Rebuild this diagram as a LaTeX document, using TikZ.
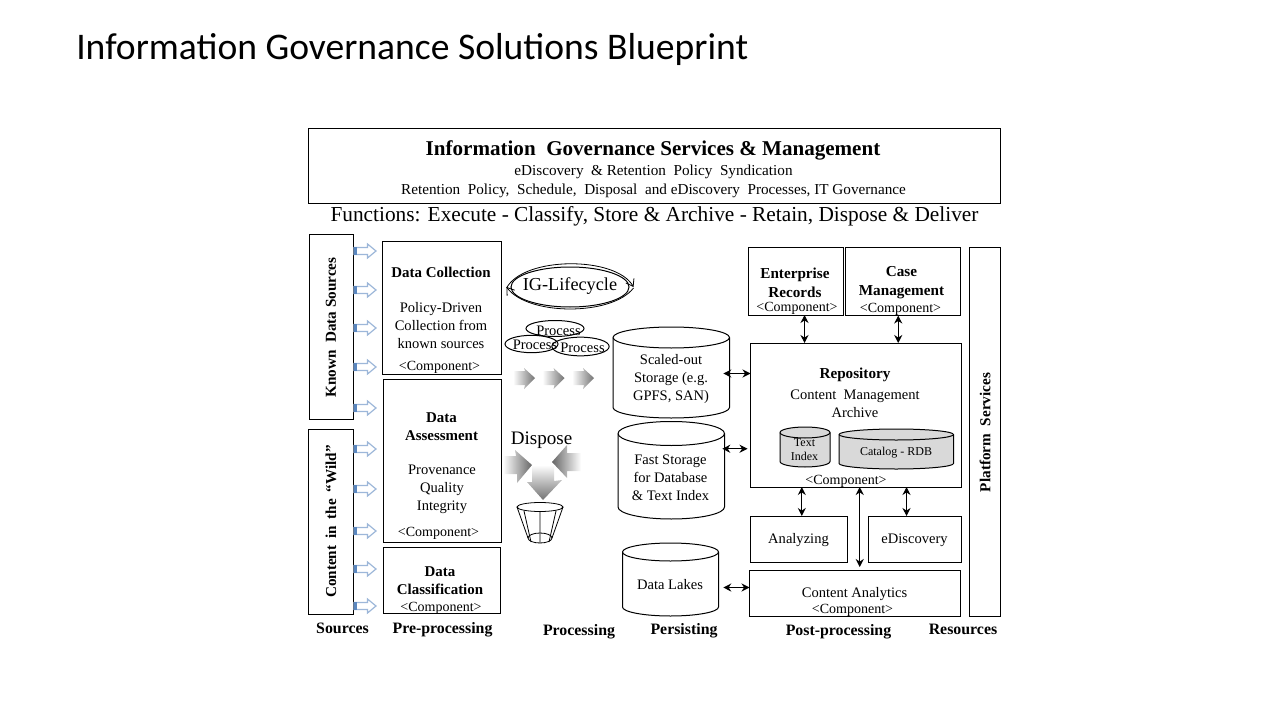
\documentclass[tikz,border=0pt]{standalone}
\usepackage{fontspec}
\setmainfont{Liberation Serif}
\newfontfamily\titlefont{Carlito}
\usetikzlibrary{arrows.meta,calc,shapes.geometric}
\definecolor{arrowblue}{HTML}{9DB7D9}
\definecolor{arrowdark}{HTML}{5B87BF}
\newcommand{\sizeA}{\fontsize{10.9}{13.5}\selectfont}
\newcommand{\sizeB}{\fontsize{11.4}{14}\selectfont\bfseries}
\newcommand{\cp}{\fontsize{10.5}{13}\selectfont <Component>}
% \cyl{name}{x1}{y1}{x2}{y2}{ry}{fill}
\newcommand{\cyl}[7]{%
  \path[fill=#7,draw=black,line width=0.75pt] (#2,#3+#6) arc[start angle=180,end angle=360,x radius={(#4-#2)/2},y radius=#6]
    -- (#4,#5-#6) arc[start angle=0,end angle=180,x radius={(#4-#2)/2},y radius=#6] -- cycle;
  \path[draw=black,line width=0.75pt] (#2,#3+#6) arc[start angle=180,end angle=0,x radius={(#4-#2)/2},y radius=#6];
  \node[minimum width={(#4-#2)*0.75pt},minimum height={(#5-#3)*0.75pt},inner sep=0pt] (#1) at ({(#2+#4)/2},{(#3+#5)/2}) {};
}
\tikzset{
  x=0.75pt,y=-0.75pt,
  box/.style={draw=black,line width=0.75pt,inner sep=0pt,outer sep=0pt,anchor=north west},
  lbl/.style={font=\sizeA,align=center,inner sep=0pt,yshift=-0.75pt},
  hd/.style={font=\sizeB,align=center,inner sep=0pt},
  foot/.style={font=\fontsize{11.9}{13}\selectfont\bfseries,inner sep=0pt,anchor=base},
  bi/.style={{Stealth[length=6pt,width=6pt]}-{Stealth[length=6pt,width=6pt]},line width=0.75pt},
  oval/.style={ellipse,draw=black,line width=0.75pt,inner sep=0pt},
}
\begin{document}
\begin{tikzpicture}
\useasboundingbox (0,0) rectangle (1280,720);
\node[font=\titlefont\fontsize{28.2}{32}\selectfont,anchor=west,inner sep=0pt] (title) at (76,49) {Information Governance Solutions Blueprint};

% top box
\node[box,minimum width=519pt,minimum height=56.25pt] (igs) at (308,128.5) {};
\node[font=\fontsize{15.8}{18}\selectfont\bfseries,inner sep=0pt] (igsh) at (653,150) {Information\ \ Governance Services \& Management};
\node[font=\fontsize{11.4}{13}\selectfont,inner sep=0pt] (igs1) at (653.5,171.5) {eDiscovery\ \ \& Retention\ \ Policy\ \ Syndication};
\node[font=\fontsize{11.4}{13}\selectfont,inner sep=0pt] (igs2) at (653.5,190.5) {Retention\ \ Policy,\ \ Schedule,\ \ Disposal\ \ and eDiscovery\ \ Processes, IT Governance};
\node[font=\fontsize{16}{18}\selectfont,inner sep=0pt] (fn) at (654.5,216.5) {Functions: Execute - Classify, Store \& Archive - Retain, Dispose \& Deliver};

% sources
\node[box,minimum width=33pt,minimum height=138.75pt] (known) at (309,234.5) {};
\node[hd,rotate=90] (knownt) at (331,327.5) {Known\ \ Data Sources};
\node[box,minimum width=34pt,minimum height=138.4pt] (wild) at (308,429.5) {};
\node[hd,rotate=90] (wildt) at (331,521.5) {Content\hspace{0.45em}in\hspace{0.45em}the\hspace{0.45em}``Wild''};

% pre-processing
\node[box,minimum width=89.6pt,minimum height=99.75pt] (dc) at (382,241.5) {};
\node[font=\fontsize{11.2}{13.5}\selectfont\bfseries,inner sep=0pt] (dch) at (441,272.5) {Data Collection};
\node[lbl] (dct) at (441,325) {Policy-Driven\\Collection from\\known sources};
\node[lbl] (dcc) at (439.5,366.5) {\cp};
\node[box,minimum width=88.5pt,minimum height=122.25pt] (da) at (383,379) {};
\node[font=\fontsize{11.2}{13.5}\selectfont\bfseries,align=center,inner sep=0pt] (dah) at (441.5,426.5) {Data\\Assessment};
\node[lbl] (dat) at (442,488) {Provenance\\Quality\\Integrity};
\node[lbl] (dac) at (438.5,532.5) {\cp};
\node[box,minimum width=87.75pt,minimum height=49.9pt] (dl) at (383,547) {};
\node[font=\fontsize{11.2}{13.5}\selectfont\bfseries,align=center,inner sep=0pt] (dlh) at (440,580.5) {Data\\Classification};
\node[lbl] (dlc) at (441,607.5) {\cp};

% hollow arrows
\foreach \yy in {251,290,328,367,408,449,489,531,569,606}{
  \draw[arrowblue,fill=white,line width=0.9pt,line join=miter]
    (354,\yy-3.5) -- (367.5,\yy-3.5) -- (367.5,\yy-7) -- (376,\yy) -- (367.5,\yy+7) -- (367.5,\yy+3.5) -- (354,\yy+3.5) -- cycle;
  \fill[arrowdark] (354,\yy-4) rectangle (356.5,\yy+4);
}

% lifecycle
\node[oval,minimum width=88.5pt,minimum height=30pt] (life) at (570,287) {};
\node[font=\fontsize{13.7}{16}\selectfont,inner sep=0pt] (lifet) at (570,286.5) {IG-Lifecycle};
\coordinate (lifeL) at ($(life.west)+(-4,0)$);
\coordinate (lifeR) at ($(life.east)+(4,0)$);
\draw[line width=0.6pt,-{Straight Barb[length=5pt,width=7pt]}] ($(lifeL)+(0,1)$) .. controls (524,256) and (616,256) .. (lifeR);
\draw[line width=0.6pt,-{Straight Barb[length=5pt,width=7pt]}] ($(lifeR)+(0,1)$) .. controls (612,316) and (528,316) .. (lifeL);

% process ellipses
\node[oval,minimum width=43.5pt,minimum height=12pt] (p1) at (555,328.5) {};
\node[oval,minimum width=39.75pt,minimum height=13pt] (p2) at (531.5,344) {};
\node[oval,minimum width=43pt,minimum height=14pt] (p3) at (580.5,346.5) {};
\node[lbl] at (558.5,329.5) {Process};
\node[lbl] at (535,344) {Process};
\node[lbl] at (582.5,346.5) {Process};

% grey arrows
\foreach \dx in {0,29.5,59}{
  \shade[left color=white,right color=black!55,xshift=\dx*0.75pt]
    (513,371) -- (525,371) -- (524,368) -- (535,378) -- (524,389) -- (525,385) -- (513,385) -- cycle;
}
\node[font=\fontsize{14.3}{16}\selectfont,inner sep=0pt] (disp) at (541.5,440) {Dispose};
\shade[left color=white,right color=black!60]
  (503,456) -- (516,456) -- (515,450) -- (532,465) -- (517,483) -- (517,474) -- (503,474) -- cycle;
\shade[right color=white,left color=black!60]
  (581,453) -- (567,453) -- (567,445) -- (552,462) -- (567,478) -- (567,471) -- (581,471) -- cycle;
\shade[top color=white,bottom color=black!55]
  (532,465) -- (554,465) -- (554,481) -- (562,480) -- (543,500) -- (527,482) -- (532,482) -- cycle;

% bucket
\draw[line width=0.6pt] (540,507) ellipse[x radius=23,y radius=4.5];
\draw[line width=0.6pt] (540,538) ellipse[x radius=12,y radius=5];
\draw[line width=0.6pt] (517,507) -- (528,538) (563,507) -- (552,538)
  (524,511) -- (531,542) (556,511) -- (549,542) (540,511) -- (540,543);

% storage
\cyl{s1}{613}{327}{729.5}{418}{10.5}{white}
\node[lbl] (s1t) at (671,378) {Scaled-out\\Storage (e.g.\\GPFS, SAN)};
\cyl{s2}{618}{421.5}{724.5}{519}{12}{white}
\node[lbl] (s2t) at (670.5,477) {Fast Storage\\for Database\\\& Text Index};
\cyl{s3}{622.5}{543}{718.5}{616}{9}{white}
\node[lbl] (s3t) at (670,584) {Data Lakes};

% right
\node[box,minimum width=71.25pt,minimum height=51pt] (er) at (748,247) {};
\node[hd] (ert) at (795,282.5) {Enterprise\\Records};
\node[lbl] (erc) at (797,307.5) {\cp};
\node[box,minimum width=86.6pt,minimum height=51.4pt] (cm) at (845,247) {};
\node[hd] (cmt) at (901.5,282.5) {Case\\Management};
\node[lbl] (cmc) at (900.5,308.5) {\cp};
\node[box,minimum width=23.25pt,minimum height=276.75pt] (ps) at (969,247) {};
\node[hd,rotate=90] (pst) at (985,432.5) {Platform\ \ Services};
\node[box,minimum width=158.25pt,minimum height=108pt] (repo) at (750.5,343) {};
\node[hd] (repoh) at (855,374.5) {Repository};
\node[lbl] (repot) at (855,403) {Content\ \ Management\\Archive};
\cyl{ti}{780}{427}{830}{467}{5.5}{black!15}
\node[font=\fontsize{9}{10.5}\selectfont,align=center,inner sep=0pt] (tit) at (804.5,450) {Text\\Index};
\cyl{cat}{839}{429}{953.5}{469}{5.5}{black!15}
\node[font=\fontsize{9}{11}\selectfont,inner sep=0pt] (catt) at (896,452.5) {Catalog - RDB};
\node[lbl] (repoc) at (846,480.5) {\cp};
\node[box,minimum width=72.4pt,minimum height=34.5pt] (an) at (750.5,516) {};
\node[lbl] (ant) at (798.5,539) {Analyzing};
\node[box,minimum width=69.75pt,minimum height=34.9pt] (ed) at (868,516) {};
\node[lbl] (edt) at (914.5,539) {eDiscovery};
\node[box,minimum width=158.6pt,minimum height=34.5pt] (ca) at (749.5,570) {};
\node[lbl] (cat2) at (854.5,593) {Content Analytics};
\node[lbl] (cac) at (852.5,609.5) {\cp};

% connectors
\coordinate (c1) at ($(er.south)+(9,0)$);
\draw[bi] (c1) -- (c1 |- repo.north);
\coordinate (c2) at ($(cm.south)+(-4.5,0)$);
\draw[bi] (c2) -- (c2 |- repo.north);
\coordinate (c3) at ($(s1.east)+(-6.5,1)$);
\draw[bi] (c3) -- (c3 -| repo.west);
\coordinate (c4) at ($(s2.east)+(-2.5,-21.5)$);
\draw[bi] (c4) -- ($(c4 -| repo.west)+(-3,0)$);
\coordinate (c5) at ($(s3.east)+(4.5,8)$);
\draw[bi] (c5) -- (c5 -| ca.west);
\coordinate (c6) at ($(an.north)+(3,0)$);
\draw[bi] (c6) -- (c6 |- repo.south);
\coordinate (c7) at ($(ed.north)+(-8,0)$);
\draw[bi] (c7) -- (c7 |- repo.south);
\coordinate (c8) at ($(ca.north)+(4.5,-3)$);
\draw[bi] (c8) -- (c8 |- repo.south);

% footer
\node[foot] (f1) at (342.5,633.5) {Sources};
\node[foot] (f2) at (442.5,633.5) {Pre-processing};
\node[foot] (f3) at (579,635) {Processing};
\node[foot] (f4) at (684,634) {Persisting};
\node[foot] (f5) at (838.5,635.5) {Post-processing};
\node[foot] (f6) at (963,634.5) {Resources};
\end{tikzpicture}
\end{document}
